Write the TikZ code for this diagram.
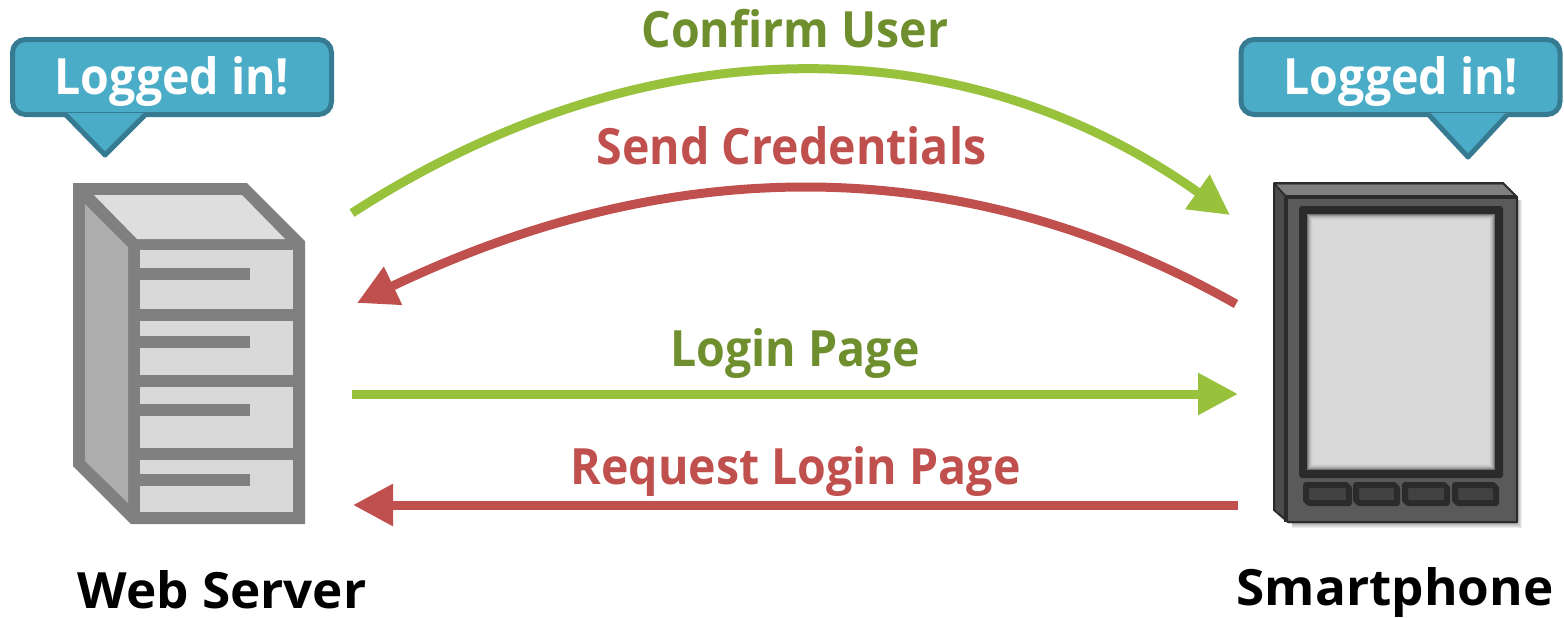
\documentclass[tikz,border=0pt]{standalone}
\usepackage{fontspec}
\usepackage{graphicx}
\setmainfont{Open Sans}
\usetikzlibrary{arrows.meta}
\definecolor{arrowgreen}{HTML}{98C23C}
\definecolor{textgreen}{HTML}{6F8F2E}
\definecolor{flowred}{HTML}{C0504D}
\definecolor{bubblefill}{HTML}{4AACC6}
\definecolor{bubbleline}{HTML}{377B92}
\definecolor{srvgray}{HTML}{808080}
\definecolor{phonedark}{HTML}{2B2B2B}
\definecolor{phonebody}{HTML}{5A5A5A}
\tikzset{
  x=0.5pt,y=-0.5pt,
  lbl/.style={anchor=base,inner sep=0pt,font=\fontsize{25}{30}\bfseries\selectfont},
  bubble/.style={draw=bubbleline,fill=bubblefill,line width=2.5pt,rounded corners=6.5pt,inner sep=0pt,minimum width=159.5pt,minimum height=37.5pt},
  flow/.style={line width=4.5pt,-{Triangle[length=20pt,width=20pt]}},
  btn/.style={fill=#1,draw=phonedark,line width=3pt,line join=round}
}
\newcommand{\narrow}[1]{\scalebox{0.93}[1]{#1}}
\newcommand{\wider}[1]{\scalebox{1.025}[1]{#1}}
\newcommand{\drawerrow}[3]{%
  \fill[fill=black!15] (140,#1) rectangle (293,#2);
  \fill[srvgray] (140,#3) rectangle (250,#3+12);
}
\newcommand{\phonebtn}[2]{%
  \draw[btn=black!74] (#1+3,485) -- (#2-6,485) -- (#2-3,488) -- (#2-3,503) -- (#1+6,503) -- (#1+3,500) -- cycle;
}
\begin{document}
\begin{tikzpicture}
\useasboundingbox (0,0) rectangle (1564,617);
% Web server
\fill[srvgray] (73,183) -- (247,183) -- (305,241) -- (305,524) -- (131,524) -- (73,466) -- cycle;
\fill[fill=black!13] (94,195) -- (242,195) -- (285,239) -- (137,239) -- cycle;
\fill[fill=black!32] (85,204) -- (128,247) -- (128,503) -- (85,461) -- cycle;
\drawerrow{250}{309}{268}
\drawerrow{321}{375}{336}
\drawerrow{387}{448}{404}
\drawerrow{460}{512}{474}
\node[lbl,text=black] (server) at (222,608) {\wider{Web Server}};
% Smartphone shadow
\foreach \d in {1,2,3,4,5,6}
  \fill[black,opacity=0.07] (1292,200) rectangle (1516+\d,522+\d);
% Smartphone
\fill[phonebody] (1274,183) -- (1503,183) -- (1517,197) -- (1517,523) -- (1288,523) -- (1274,510) -- cycle;
\fill[fill=black!50] (1276,185) -- (1503,185) -- (1515,195) -- (1287,195) -- cycle;
\fill[fill=black!70] (1275,186) -- (1285,196) -- (1285,520) -- (1275,509) -- cycle;
\draw[phonedark,line width=1pt,line join=round] (1274,183) -- (1503,183) -- (1517,197) -- (1517,522) -- (1288,522) -- (1274,510) -- cycle;
\draw[phonedark,line width=2pt] (1286,197) -- (1517,197);
\draw[phonedark,line width=2pt] (1286,197) -- (1286,522);
\draw[phonedark,line width=0.8pt] (1274,183) -- (1286,197);
\fill[phonedark,rounded corners=1.5pt] (1299,206) rectangle (1503,478);
\foreach \i/\c in {0/45,1/58,2/68,3/75,4/80,5/83,6/85}
  \fill[fill=white!\c!black] (1307+\i,214+\i) rectangle (1495-\i,470-\i);
\phonebtn{1303}{1352}
\phonebtn{1353}{1400}
\phonebtn{1402}{1450}
\phonebtn{1452}{1499}
\node[lbl,text=black] (phone) at (1395,605) {\wider{Smartphone}};
% Callouts
\node[bubble] (bubL) at (172,77) {};
\fill[bubblefill] (67,113) -- (105,155) -- (144,113) -- cycle;
\draw[bubbleline,line width=2.5pt,line join=round] (66,115) -- (105,155) -- (145,115);
\node[lbl,text=white] (txtL) at (172,94) {\narrow{Logged in!}};
\node[bubble] (bubR) at (1400.5,77) {};
\fill[bubblefill] (1430,113) -- (1468,157) -- (1506,113) -- cycle;
\draw[bubbleline,line width=2.5pt,line join=round] (1429,115) -- (1468,157) -- (1507,115);
\node[lbl,text=white] (txtR) at (1401,94) {\narrow{Logged in!}};
% Connector ends
\coordinate (g1s) at (352,213);
\coordinate (g1e) at (1230,215);
\coordinate (r1s) at (1236,304);
\coordinate (r1e) at (357,303);
\coordinate (g2s) at (352,394);
\coordinate (g2e) at (1238,394);
\coordinate (r2s) at (1238,505);
\coordinate (r2e) at (353,505);
% Connectors
\draw[flow,arrowgreen] (g1s) .. controls (645,24) and (961,24) .. (g1e);
\draw[flow,flowred] (r1s) .. controls (965,151) and (675,151) .. (r1e);
\draw[flow,arrowgreen] (g2s) -- (g2e);
\draw[flow,flowred] (r2s) -- (r2e);
% Labels
\node[lbl,text=textgreen] (lab1) at (795,47) {\narrow{Confirm User}};
\node[lbl,text=flowred] (lab2) at (791.5,164) {\narrow{Send Credentials}};
\node[lbl,text=textgreen] (lab3) at (795,366) {\narrow{Login Page}};
\node[lbl,text=flowred] (lab4) at (795.5,484) {\narrow{Request Login Page}};
\end{tikzpicture}
\end{document}
